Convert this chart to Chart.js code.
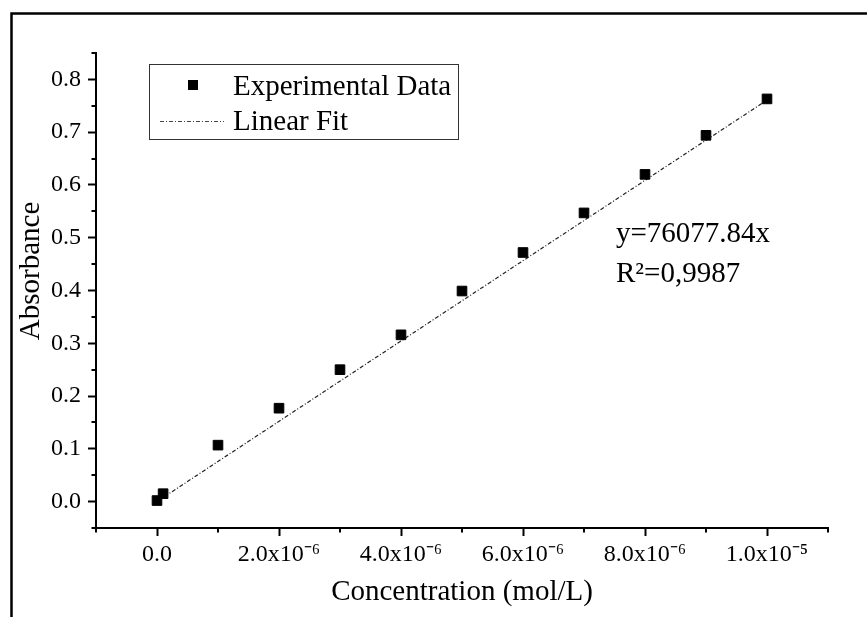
<!DOCTYPE html>
<html>
<head>
<meta charset="utf-8">
<script src="https://cdn.jsdelivr.net/npm/chart.js@4.4.1/dist/chart.umd.min.js"></script>
<style>
    html, body { margin: 0; padding: 0; background: #fff; }
    #wrap { width: 867px; height: 617px; position: relative; }
</style>
</head>
<body>
<div id="wrap"><canvas id="absorbanceChart"></canvas></div>
<script>
// measured points (mol/L vs absorbance)
const concentration = [0, 1e-7, 1e-6, 2e-6, 3e-6, 4e-6, 5e-6, 6e-6, 7e-6, 8e-6, 9e-6, 1e-5];
const absorbance = [0.002, 0.015, 0.107, 0.177, 0.250, 0.316, 0.399, 0.472, 0.547, 0.620, 0.694, 0.763];

// linear fit y=76077.84x, end points
const fitX = [0, 1e-5];
const fitY = [0, 0.7608];

const xTickValues = [0, 2e-6, 4e-6, 6e-6, 8e-6, 1e-5];
const xTickLabels = ['0.0', '2.0x10\u207B\u2076', '4.0x10\u207B\u2076', '6.0x10\u207B\u2076', '8.0x10\u207B\u2076', '1.0x10\u207B\u2075'];
const yTickValues = [0, 0.1, 0.2, 0.3, 0.4, 0.5, 0.6, 0.7, 0.8];
const yTickLabels = ['0.0', '0.1', '0.2', '0.3', '0.4', '0.5', '0.6', '0.7', '0.8'];

const legendLabels = ['Experimental Data', 'Linear Fit'];
const fitText = ['y=76077.84x', 'R\u00B2=0,9987'];

const serif = "'Liberation Serif', 'Times New Roman', serif";
Chart.defaults.font.family = serif;
Chart.defaults.color = '#000';

function findLabel(values, labels, v, eps) {
    for (let i = 0; i < values.length; i++) {
        if (Math.abs(values[i] - v) < eps) return labels[i];
    }
    return '';
}

function isMajor(values, v, eps) {
    return values.some(t => Math.abs(t - v) < eps);
}

// frame, minor ticks, legend box and fit text
const decorPlugin = {
    id: 'decor',
    beforeDraw(chart) {
        const ctx = chart.ctx;
        ctx.save();
        ctx.fillStyle = '#fff';
        ctx.fillRect(0, 0, chart.width, chart.height);
        ctx.strokeStyle = '#000';
        ctx.lineWidth = 2.5;
        ctx.beginPath();
        ctx.moveTo(11.5, chart.height);
        ctx.lineTo(11.5, 13.5);
        ctx.lineTo(chart.width, 13.5);
        ctx.stroke();
        ctx.restore();
    },
    afterDraw(chart) {
        const ctx = chart.ctx;
        const xs = chart.scales.x;
        const ys = chart.scales.y;
        const area = chart.chartArea;
        ctx.save();

        // minor ticks
        ctx.strokeStyle = '#000';
        ctx.lineWidth = 2;
        ctx.beginPath();
        xs.ticks.forEach(t => {
            if (isMajor(xTickValues, t.value, 1e-9)) return;
            const px = Math.round(xs.getPixelForValue(t.value));
            ctx.moveTo(px, area.bottom);
            ctx.lineTo(px, area.bottom + 4.5);
        });
        ys.ticks.forEach(t => {
            if (isMajor(yTickValues, t.value, 1e-6)) return;
            const py = Math.round(ys.getPixelForValue(t.value));
            ctx.moveTo(area.left, py);
            ctx.lineTo(area.left - 4.5, py);
        });
        ctx.stroke();

        // y axis title
        ctx.fillStyle = '#000';
        ctx.font = '29px ' + serif;
        ctx.textAlign = 'center';
        ctx.textBaseline = 'middle';
        ctx.translate(31, 271);
        ctx.rotate(-Math.PI / 2);
        ctx.fillText('Absorbance', 0, 0);
        ctx.setTransform(1, 0, 0, 1, 0, 0);

        // legend
        ctx.strokeStyle = '#333';
        ctx.lineWidth = 1;
        ctx.strokeRect(149.5, 64.5, 309, 75);
        ctx.fillStyle = '#000';
        ctx.fillRect(188, 80, 10, 10);
        ctx.strokeStyle = '#444';
        ctx.setLineDash([4, 2, 1, 2]);
        ctx.beginPath();
        ctx.moveTo(160, 121.5);
        ctx.lineTo(224, 121.5);
        ctx.stroke();
        ctx.setLineDash([]);
        ctx.textAlign = 'left';
        ctx.textBaseline = 'alphabetic';
        ctx.fillText(legendLabels[0], 233, 95);
        ctx.fillText(legendLabels[1], 233, 130);

        // fit equation
        ctx.fillText(fitText[0], 616, 242);
        ctx.fillText(fitText[1], 616, 282);
        ctx.restore();
    }
};

const ctx = document.getElementById('absorbanceChart').getContext('2d');

const absorbanceChart = new Chart(ctx, {
    type: 'scatter',
    data: {
        datasets: [
            {
                label: legendLabels[0],
                data: concentration.map((c, i) => ({ x: c, y: absorbance[i] })),
                pointStyle: 'rect',
                pointRadius: 6.8,
                pointHoverRadius: 6.8,
                backgroundColor: '#000',
                borderColor: '#000',
                borderWidth: 1,
            },
            {
                type: 'line',
                label: legendLabels[1],
                data: fitX.map((c, i) => ({ x: c, y: fitY[i] })),
                borderColor: '#222',
                borderWidth: 1.2,
                borderDash: [4, 2, 1, 2],
                pointRadius: 0,
                fill: false,
            },
        ]
    },
    options: {
        responsive: true,
        maintainAspectRatio: false,
        animation: false,
        layout: {
            padding: { top: 53, right: 39, bottom: 0, left: 0 }
        },
        plugins: {
            legend: { display: false },
            tooltip: { enabled: false },
        },
        scales: {
            x: {
                type: 'linear',
                min: -1e-6,
                max: 1.1e-5,
                afterFit: (scale) => { scale.height = 89; },
                border: { display: true, color: '#000', width: 2 },
                grid: {
                    drawOnChartArea: false,
                    drawTicks: true,
                    tickLength: 8,
                    tickWidth: 2,
                    tickColor: (c) => isMajor(xTickValues, c.tick ? c.tick.value : NaN, 1e-9) ? '#000' : 'rgba(0,0,0,0)',
                },
                ticks: {
                    stepSize: 1e-6,
                    autoSkip: false,
                    maxRotation: 0,
                    padding: 4,
                    font: { size: 24 },
                    color: '#000',
                    callback: (v) => findLabel(xTickValues, xTickLabels, v, 1e-9),
                },
                title: {
                    display: true,
                    text: 'Concentration (mol/L)',
                    font: { size: 29 },
                    color: '#000',
                    padding: { top: 0, bottom: 7 },
                }
            },
            y: {
                type: 'linear',
                min: -0.05,
                max: 0.85,
                afterFit: (scale) => { scale.width = 96; },
                border: { display: true, color: '#000', width: 2 },
                grid: {
                    drawOnChartArea: false,
                    drawTicks: true,
                    tickLength: 8,
                    tickWidth: 2,
                    tickColor: (c) => isMajor(yTickValues, c.tick ? c.tick.value : NaN, 1e-6) ? '#000' : 'rgba(0,0,0,0)',
                },
                ticks: {
                    stepSize: 0.05,
                    autoSkip: false,
                    padding: 7,
                    font: { size: 24 },
                    color: '#000',
                    callback: (v) => findLabel(yTickValues, yTickLabels, v, 1e-6),
                }
            }
        }
    },
    plugins: [decorPlugin]
});
</script>
</body>
</html>
